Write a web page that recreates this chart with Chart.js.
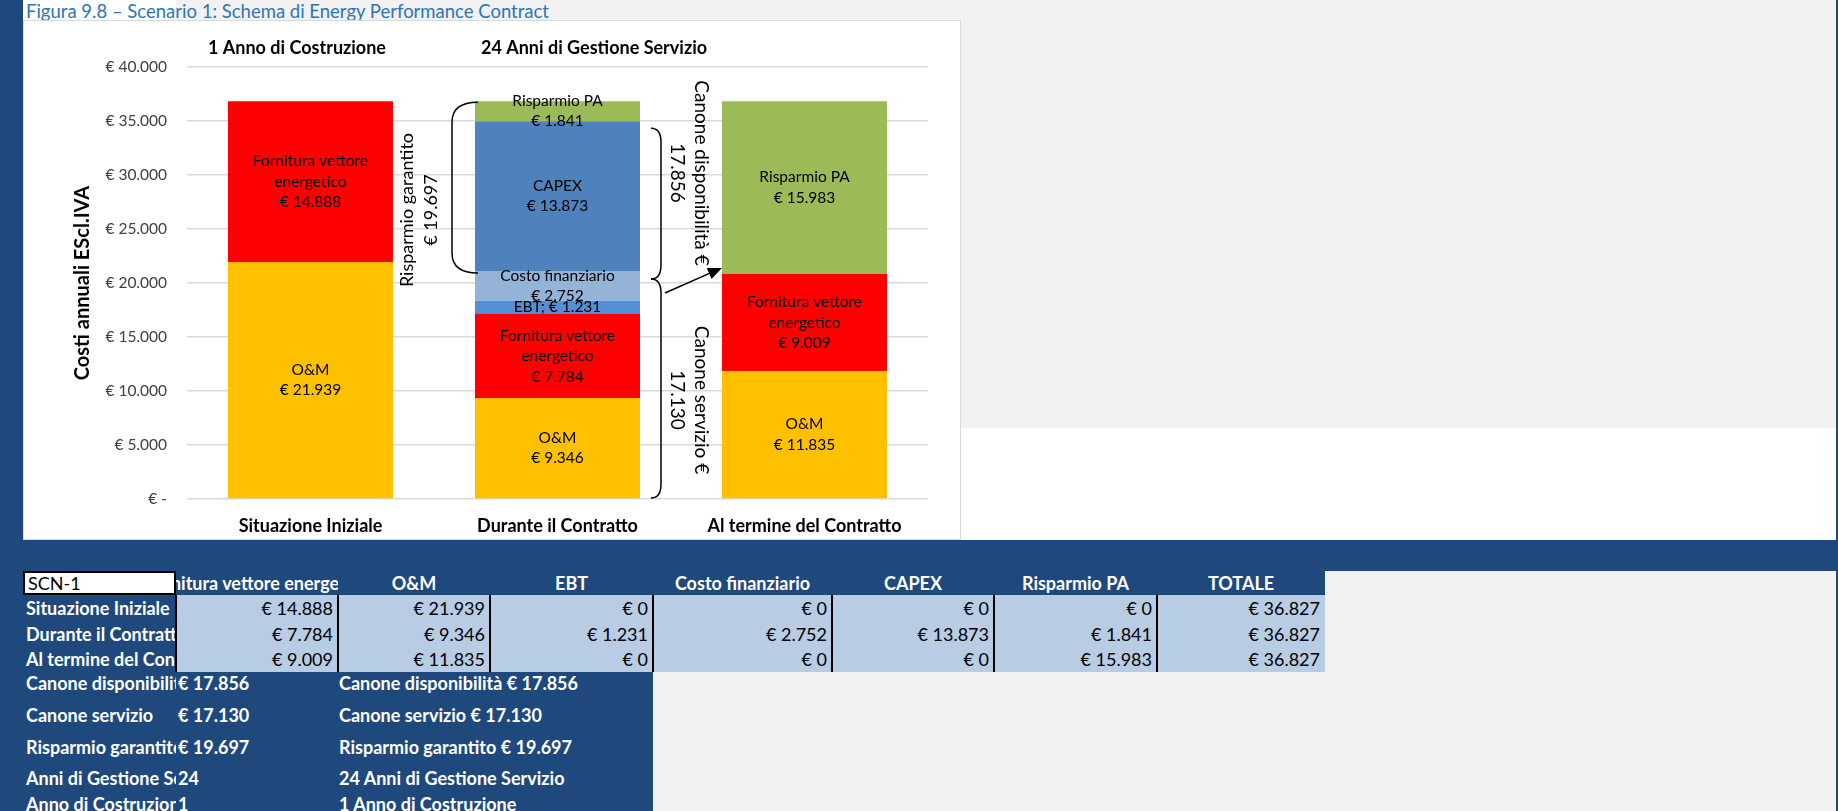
<!DOCTYPE html>
<html>
<head>
<meta charset="utf-8">
<script src="https://cdn.jsdelivr.net/npm/chart.js@4.4.0/dist/chart.umd.min.js"></script>
<style>
body { margin:0; width:1838px; height:811px; overflow:hidden; background:#f2f2f2; position:relative; font-family:Lato, "Open Sans", sans-serif; }
.abs { position:absolute; }
.dark { background:#1f497d; }
.cell { position:absolute; overflow:hidden; white-space:nowrap; display:flex; align-items:center; box-sizing:border-box; font-size:18px; }
</style>
</head>
<body>
<div class="abs dark" style="left:0;top:0;width:23px;height:811px"></div>
<div class="abs" style="left:23px;top:0;width:153px;height:20px;background:#fff"></div>
<div class="abs" style="left:26px;top:0;height:22px;line-height:22px;font-size:18.5px;color:#2e75b6;white-space:nowrap">Figura 9.8 – Scenario 1: Schema di Energy Performance Contract</div>
<div class="abs" style="left:961px;top:428px;width:875px;height:112px;background:#fff"></div>
<div class="abs dark" style="left:1836px;top:0;width:2px;height:811px"></div>
<div class="abs dark" style="left:0;top:540px;width:1838px;height:31px"></div>
<div class="abs dark" style="left:0;top:571px;width:1325px;height:24px"></div>
<div class="abs dark" style="left:0;top:595px;width:653px;height:216px"></div>
<div class="abs" style="left:176px;top:595px;width:1149px;height:77px;background:#b8cce4"></div>
<div class="abs" style="left:23px;top:20px;width:938px;height:520px;background:#fff;border:1px solid #d9d9d9;box-sizing:border-box">
  <canvas id="chart" width="936" height="518"></canvas>
</div>
<script>
// dati del grafico
const categories = ['Situazione Iniziale', 'Durante il Contratto', 'Al termine del Contratto'];
const seriesNames = ['O&M', 'Fornitura vettore energetico', 'EBT', 'Costo finanziario', 'CAPEX', 'Risparmio PA'];
const omValues = [21939, 9346, 11835];
const fornituraValues = [14888, 7784, 9009];
const ebtValues = [0, 1231, 0];
const costoFinValues = [0, 2752, 0];
const capexValues = [0, 13873, 0];
const risparmioValues = [0, 1841, 15983];
const totaleValues = [36827, 36827, 36827];
const canoneDisponibilita = 17856;
const canoneServizio = 17130;
const risparmioGarantito = 19697;
const anniGestione = 24;
const anniCostruzione = 1;

const seriesColors = ['#ffc000', '#ff0000', '#558ed5', '#95b3d7', '#4f81bd', '#9bbb59'];
const fmt = v => String(v).replace(/\B(?=(\d{3})+(?!\d))/g, '.');
const FONT = 'Lato, "Open Sans", sans-serif';

// etichette dentro le barre
var labelLines = {
    'Fornitura vettore energetico': ['Fornitura vettore', 'energetico']
};
var segmentLabels = {
    id: 'segmentLabels',
    afterDatasetsDraw: function(chart) {
        var ctx = chart.ctx;
        ctx.save();
        ctx.font = '15.5px ' + FONT;
        ctx.fillStyle = '#000';
        ctx.textAlign = 'center';
        ctx.textBaseline = 'middle';
        chart.data.datasets.forEach(function(ds, i) {
            chart.getDatasetMeta(i).data.forEach(function(el, j) {
                var v = ds.data[j];
                if (!v) return;
                var lines;
                if (ds.label === 'EBT') lines = ['EBT; € ' + fmt(v)];
                else lines = (labelLines[ds.label] || [ds.label]).concat(['€ ' + fmt(v)]);
                var cy = (el.y + el.base) / 2;
                var lh = 20.5;
                lines.forEach(function(t, k) {
                    ctx.fillText(t, el.x, cy + (k - (lines.length - 1) / 2) * lh);
                });
            });
        });
        ctx.restore();
    }
};

// parentesi, freccia e testi
var annotations = {
    id: 'annotations',
    afterDatasetsDraw: function(chart) {
        var ctx = chart.ctx;
        var y = chart.scales.y;
        var b1 = chart.getDatasetMeta(0).data[0];
        var b2 = chart.getDatasetMeta(0).data[1];
        var b3 = chart.getDatasetMeta(0).data[2];
        var b1r = b1.x + b1.width / 2, b2l = b2.x - b2.width / 2, b2r = b2.x + b2.width / 2, b3l = b3.x - b3.width / 2;
        var topDurante = totaleValues[1];
        var topCapex = totaleValues[1] - risparmioValues[1];
        var topCosto = topCapex - capexValues[1];
        var topForn3 = omValues[2] + fornituraValues[2];

        ctx.save();
        ctx.strokeStyle = '#000';
        ctx.lineWidth = 1.5;
        // parentesi sinistra
        var xr = b2l + 3, xl = xr - 26, t = y.getPixelForValue(topDurante) + 1, b = y.getPixelForValue(topCosto) + 2;
        ctx.beginPath();
        ctx.moveTo(xr, t);
        ctx.quadraticCurveTo(xl, t, xl, t + 20);
        ctx.lineTo(xl, b - 20);
        ctx.quadraticCurveTo(xl, b, xr, b);
        ctx.stroke();
        // parentesi destre
        function rbrace(x0, top, bot) {
            ctx.beginPath();
            ctx.moveTo(x0, top);
            ctx.quadraticCurveTo(x0 + 10, top, x0 + 10, top + 14);
            ctx.lineTo(x0 + 10, bot - 14);
            ctx.quadraticCurveTo(x0 + 10, bot, x0, bot);
            ctx.stroke();
        }
        var joint = y.getPixelForValue(topCosto) + 8;
        rbrace(b2r + 11, y.getPixelForValue(topCapex) + 7, joint);
        rbrace(b2r + 11, joint, y.getPixelForValue(0) - 1);
        // freccia
        var ax = b2r + 25, ay = joint + 14, tx = b3l, ty = y.getPixelForValue(topForn3) - 6;
        var ang = Math.atan2(ty - ay, tx - ax);
        ctx.beginPath();
        ctx.moveTo(ax, ay);
        ctx.lineTo(tx - 10 * Math.cos(ang), ty - 10 * Math.sin(ang));
        ctx.stroke();
        ctx.fillStyle = '#000';
        ctx.beginPath();
        ctx.moveTo(tx, ty);
        ctx.lineTo(tx - 14 * Math.cos(ang) + 6 * Math.sin(ang), ty - 14 * Math.sin(ang) - 6 * Math.cos(ang));
        ctx.lineTo(tx - 14 * Math.cos(ang) - 6 * Math.sin(ang), ty - 14 * Math.sin(ang) + 6 * Math.cos(ang));
        ctx.closePath();
        ctx.fill();

        // testi ruotati
        ctx.textAlign = 'center';
        ctx.textBaseline = 'middle';
        function rotText(lines, cx, cy, rot) {
            ctx.save();
            ctx.translate(cx, cy);
            ctx.rotate(rot);
            lines.forEach(function(s, k) { ctx.fillText(s, 0, (k - (lines.length - 1) / 2) * 24); });
            ctx.restore();
        }
        ctx.font = '18px ' + FONT;
        rotText(['Risparmio garantito', '€ ' + fmt(risparmioGarantito)], b1r + 26, 189, -Math.PI / 2);
        ctx.font = '19px ' + FONT;
        rotText(['Canone disponibilità €', fmt(canoneDisponibilita)], b2r + 49, 152, Math.PI / 2);
        rotText(['Canone servizio €', fmt(canoneServizio)], b2r + 49, 379, Math.PI / 2);

        // titoli sopra
        ctx.font = 'bold 18px ' + FONT;
        ctx.fillText(anniCostruzione + ' Anno di Costruzione', b1.x - 13.5, 27);
        ctx.fillText(anniGestione + ' Anni di Gestione Servizio', b2.x + 36.5, 27);
        ctx.restore();
    }
};

var datasets = [omValues, fornituraValues, ebtValues, costoFinValues, capexValues, risparmioValues].map(function(d, i) {
    return { label: seriesNames[i], data: d, backgroundColor: seriesColors[i], borderWidth: 0 };
});

var ctx1 = document.getElementById('chart');
var chart = new Chart(ctx1, {
    type: 'bar',
    data: { labels: categories, datasets: datasets },
    options: {
        responsive: false,
        animation: false,
        layout: { padding: { top: 46, right: 32, left: 0, bottom: 0 } },
        plugins: { legend: { display: false }, tooltip: { enabled: false } },
        datasets: { bar: { barPercentage: 1, categoryPercentage: 0.668 } },
        scales: {
            x: {
                stacked: true,
                grid: { display: false, drawTicks: false },
                border: { display: false },
                ticks: { padding: 16, color: '#000', font: { family: FONT, size: 18, weight: 'bold' } },
                afterFit: function(s) { s.height = 40; }
            },
            y: {
                stacked: true,
                min: 0,
                max: 40000,
                grid: { color: '#d9d9d9', lineWidth: 1.5, drawTicks: false },
                border: { display: false },
                ticks: {
                    stepSize: 5000,
                    padding: 20,
                    color: '#404040',
                    font: { family: FONT, size: 15.5 },
                    callback: function(v) { return v === 0 ? '€ -' : '€ ' + fmt(v); }
                },
                title: {
                    display: true,
                    text: 'Costi annuali EScl.IVA',
                    color: '#000',
                    font: { family: FONT, size: 20, weight: 'bold' },
                    padding: { top: 47, bottom: 0 }
                },
                afterFit: function(s) { s.width = 163; }
            }
        }
    },
    plugins: [segmentLabels, annotations]
});

// tabella sotto il grafico
function cell(left, top, w, h, text, style) {
    var d = document.createElement('div');
    d.className = 'cell';
    d.style.cssText = 'left:' + left + 'px;top:' + top + 'px;width:' + w + 'px;height:' + h + 'px;' + style;
    var s = document.createElement('span');
    s.textContent = text;
    d.appendChild(s);
    document.body.appendChild(d);
}
var colX = [23, 176, 338, 490, 653, 832, 994, 1157, 1325];
var headers = ['Fornitura vettore energetico', 'O&M', 'EBT', 'Costo finanziario', 'CAPEX', 'Risparmio PA', 'TOTALE'];
var WH = 'color:#fff;font-weight:bold;';

cell(23, 571, 153, 24, 'SCN-1', 'background:#fff;border:2px solid #000;padding-left:3px;color:#000;');
headers.forEach(function(h, i) {
    cell(colX[i + 1], 571, colX[i + 2] - colX[i + 1], 24, h, WH + 'justify-content:center;');
});
var rowTop = [595, 621, 646], rowH = [26, 25, 26];
categories.forEach(function(c, r) {
    cell(23, rowTop[r], 153, rowH[r], c, WH + 'padding-left:3px;');
    var vals = [fornituraValues[r], omValues[r], ebtValues[r], costoFinValues[r], capexValues[r], risparmioValues[r], totaleValues[r]];
    vals.forEach(function(v, i) {
        cell(colX[i + 1], rowTop[r], colX[i + 2] - colX[i + 1], rowH[r], '€ ' + fmt(v), 'color:#000;justify-content:flex-end;padding-right:5px;');
    });
});
colX.slice(1, 8).forEach(function(x) {
    var d = document.createElement('div');
    d.className = 'abs';
    d.style.cssText = 'left:' + (x - 1) + 'px;top:595px;width:2px;height:77px;background:#000';
    document.body.appendChild(d);
});

var extraLabels = ['Canone disponibilità', 'Canone servizio', 'Risparmio garantito', 'Anni di Gestione Servizio', 'Anno di Costruzione'];
var extraValues = ['€ ' + fmt(canoneDisponibilita), '€ ' + fmt(canoneServizio), '€ ' + fmt(risparmioGarantito), String(anniGestione), String(anniCostruzione)];
var extraText = [
    'Canone disponibilità € ' + fmt(canoneDisponibilita),
    'Canone servizio € ' + fmt(canoneServizio),
    'Risparmio garantito € ' + fmt(risparmioGarantito),
    anniGestione + ' Anni di Gestione Servizio',
    anniCostruzione + ' Anno di Costruzione'
];
var extraCenter = [683, 715, 747, 778, 804];
extraLabels.forEach(function(l, i) {
    var t = extraCenter[i] - 12;
    cell(23, t, 153, 24, l, WH + 'padding-left:3px;');
    cell(176, t, 162, 24, extraValues[i], WH + 'padding-left:2px;');
    cell(338, t, 315, 24, extraText[i], WH + 'padding-left:1px;');
});
</script>
</body>
</html>
